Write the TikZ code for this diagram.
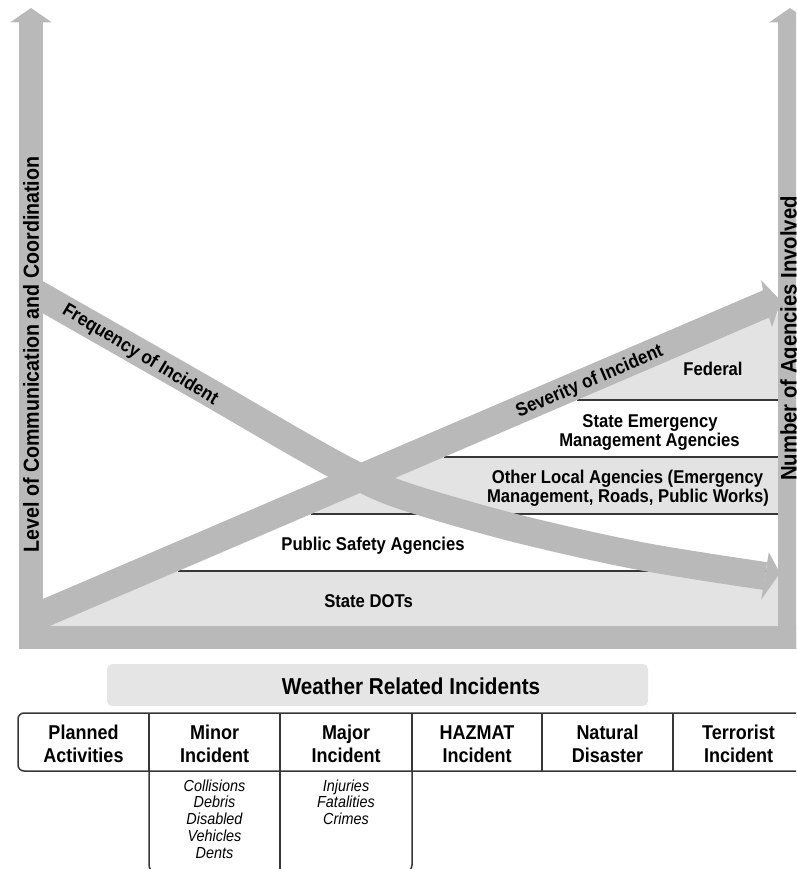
\documentclass[tikz,border=0pt]{standalone}
\usepackage{fontspec}
\setmainfont{Liberation Sans}[FakeStretch=0.9]
\definecolor{arrowgray}{RGB}{185,185,185}
\definecolor{lightfill}{RGB}{227,227,227}
\definecolor{boxfill}{RGB}{229,229,229}
\definecolor{linegray}{RGB}{55,55,55}
\tikzset{
  bandline/.style={draw=linegray, line width=1.4pt},
  tableline/.style={draw=linegray, line width=1.5pt},
  lbl/.style={font=\bfseries\fontsize{18.5}{20}\selectfont, anchor=base, inner sep=0pt},
  hdr/.style={font=\bfseries\fontsize{20}{22}\selectfont, anchor=base, inner sep=0pt},
  itm/.style={font=\itshape\fontsize{16}{18}\selectfont, anchor=base, inner sep=0pt},
  arrowlbl/.style={font=\bfseries\fontsize{19}{21}\selectfont, anchor=base, inner sep=0pt},
  axislbl/.style={font=\bfseries\fontsize{21.8}{24}\selectfont, anchor=base, inner sep=0pt},
}
\begin{document}
\begin{tikzpicture}[x=1pt,y=-1pt]
\path[use as bounding box] (0,0) rectangle (796,869);
\clip (0,0) rectangle (796,869);

% light grey bands
\fill[lightfill] (577,400) -- (778,314) -- (778,400) -- cycle;
\fill[lightfill] (444.1,457) -- (778,457) -- (778,514) -- (311.2,514) -- cycle;
\fill[lightfill] (178.3,571) -- (778,571) -- (778,626) -- (50,626) -- cycle;

% band boundary lines
\draw[bandline] (577,400) -- (778,400);
\draw[bandline] (444.1,457) -- (778,457);
\draw[bandline] (311.2,514) -- (778,514);
\draw[bandline] (178.3,571) -- (778,571);

% frequency of incident (curved arrow)
\draw[arrowgray, line width=28pt] plot[smooth, tension=0.55] coordinates
  {(31,290.5) (200,387) (300,445) (357,476) (407,497) (515,528) (640,556) (765,576)};
\fill[arrowgray] (768.8,552.3) -- (780,573) -- (761.2,599.7) -- cycle;

% severity of incident (straight arrow)
\fill[arrowgray] (31,604.1) -- (763,290.3) -- (761,280) -- (781,301) -- (772,327)
  -- (769,317.7) -- (31,634.1) -- cycle;

% axes
\fill[arrowgray] (19,22) rectangle (43,649);
\fill[arrowgray] (10,22.5) -- (31,8) -- (52,22.5) -- cycle;
\fill[arrowgray] (778,22) rectangle (802,649);
\fill[arrowgray] (769,22.5) -- (790,8) -- (811,22.5) -- cycle;
\fill[arrowgray] (19,626) rectangle (802,649);

% axis labels
\node[axislbl, rotate=90] (yleft) at (38.8,354.5) {Level of Communication and Coordination};
\node[axislbl, rotate=90, font=\bfseries\fontsize{22.5}{24}\selectfont] (yright) at (796.5,338.5) {Number of Agencies Involved};

% arrow labels
\node[arrowlbl, rotate=-31] (freq) at (137.5,359.2) {Frequency of Incident};
\node[arrowlbl, rotate=23.2] (sev) at (591.7,386.3) {Severity of Incident};

% band labels
\node[lbl] (fed) at (713,375) {Federal};
\node[lbl] (sem1) at (650,427) {State Emergency};
\node[lbl] (sem2) at (649.5,446) {Management Agencies};
\node[lbl] (olo1) at (627.5,483) {Other Local Agencies (Emergency};
\node[lbl] (olo2) at (628,502.5) {Management, Roads, Public Works)};
\node[lbl] (psa) at (373,550) {Public Safety Agencies};
\node[lbl] (dot) at (368.5,607) {State DOTs};

% weather box
\fill[boxfill, rounded corners=5pt] (107,664) rectangle (648,706);
\node[font=\bfseries\fontsize{23}{25}\selectfont, anchor=base, inner sep=0pt] (wri) at (411,694) {Weather Related Incidents};

% table
\draw[tableline, rounded corners=6pt] (830,713) -- (18,713) -- (18,771) -- (830,771);
\foreach \xx in {149,280,412,542,673} \draw[tableline] (\xx,713) -- (\xx,771);
\draw[tableline, rounded corners=7pt] (149,771) -- (149,872) -- (412,872) -- (412,771);
\draw[tableline] (280,771) -- (280,872);

\node[hdr] (h1a) at (83.5,739.3) {Planned};
\node[hdr] (h1b) at (83.5,762.7) {Activities};
\node[hdr] (h2a) at (214.5,739.3) {Minor};
\node[hdr] (h2b) at (214.5,762.7) {Incident};
\node[hdr] (h3a) at (346,739.3) {Major};
\node[hdr] (h3b) at (346,762.7) {Incident};
\node[hdr] (h4a) at (477,739.3) {HAZMAT};
\node[hdr] (h4b) at (477,762.7) {Incident};
\node[hdr] (h5a) at (607.5,739.3) {Natural};
\node[hdr] (h5b) at (607.5,762.7) {Disaster};
\node[hdr] (h6a) at (738.5,739.3) {Terrorist};
\node[hdr] (h6b) at (738.5,762.7) {Incident};

\node[itm] (m1) at (214.5,791) {Collisions};
\node[itm] (m2) at (214.5,807.8) {Debris};
\node[itm] (m3) at (214.5,824.6) {Disabled};
\node[itm] (m4) at (214.5,841.5) {Vehicles};
\node[itm] (m5) at (214.5,858.5) {Dents};
\node[itm] (j1) at (346,791) {Injuries};
\node[itm] (j2) at (346,807.8) {Fatalities};
\node[itm] (j3) at (346,824.6) {Crimes};
\end{tikzpicture}
\end{document}
